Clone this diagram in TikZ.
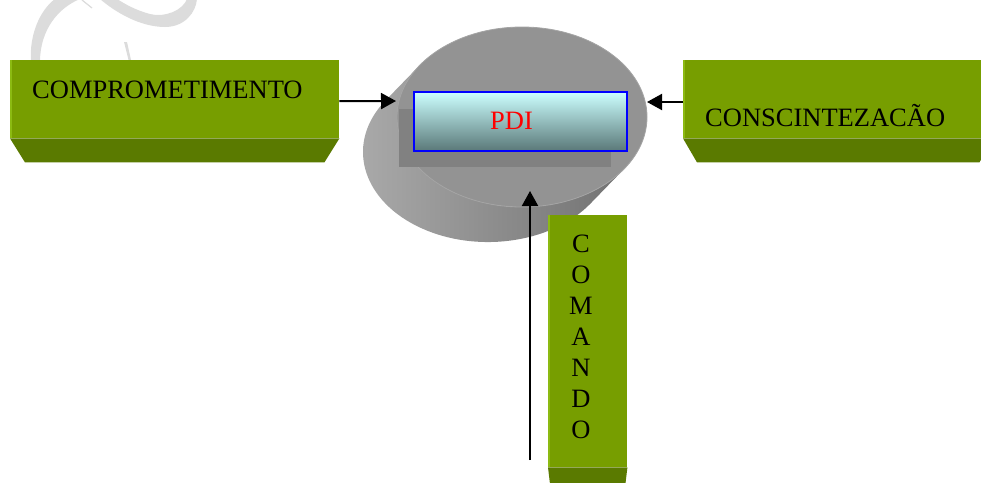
\documentclass[tikz,border=0pt]{standalone}
\usepackage{fontspec}
\setmainfont{Liberation Serif}
\usetikzlibrary{arrows.meta,shapes.geometric}

\definecolor{leaf}{HTML}{779E00}
\definecolor{leafdark}{HTML}{5A7A00}
\definecolor{leaflight}{HTML}{8CBA12}
\definecolor{disktop}{HTML}{939393}
\definecolor{diskrim}{HTML}{A4A4A4}
\definecolor{diskshadow}{HTML}{818181}
\definecolor{sidelight}{HTML}{ACACAC}
\definecolor{sidemid}{HTML}{8E8E8E}
\definecolor{sidedark}{HTML}{727272}
\definecolor{flourishgray}{HTML}{DCDCDC}

\begin{document}
\begin{tikzpicture}[x=1pt,y=-1pt,
  frontface/.style={rectangle, fill=leaf, draw=none, inner sep=0pt},
  bevelface/.style={fill=leafdark},
  edgelight/.style={draw=leaflight, line width=1.5pt},
  lbl/.style={font=\fontsize{26.5}{30}\selectfont, inner sep=0pt},
  flow/.style={line width=2pt, -{Triangle[length=15pt,width=16pt]}},
]
\useasboundingbox (0,0) rectangle (981,482);

% faint calligraphic flourish in the top-left corner
\fill[flourishgray] (31,62) .. controls (29,35) and (40,10) .. (55,-1) -- (80,-1)
  .. controls (58,8) and (40,30) .. (40,62) -- cycle;
\draw[flourishgray, line width=1.2pt] (82,0) -- (92,8);
\fill[flourishgray] (100,-1) .. controls (115,12) and (140,27) .. (165,27)
  .. controls (185,27) and (196,12) .. (197,-1) -- (187,-1)
  .. controls (183,10) and (165,18) .. (150,14)
  .. controls (135,10) and (125,4) .. (117,-1) -- cycle;
\fill[flourishgray] (124,42) -- (127,42) -- (131,60) -- (128.5,60) -- cycle;

% cylinder: side band, top face, inner shadow
\shade[left color=sidelight, middle color=sidemid, right color=sidedark]
  (419.6,65.4) -- (385.6,100.4)
  arc[start angle=215, end angle=35, x radius=125, y radius=90]
  -- (624.4,168.6)
  arc[start angle=35, end angle=215, x radius=125, y radius=90] -- cycle;
\node[ellipse, fill=disktop, draw=diskrim, line width=0.8pt,
      minimum width=250pt, minimum height=180pt, inner sep=0pt] (disk) at (522,117) {};
\fill[diskshadow] (399,109) rectangle (611,167);

% central block
\node[rectangle, draw=blue, line width=1.2pt, inner sep=0pt,
      top color={rgb,255:red,204;green,255;blue,255},
      middle color={rgb,255:red,150;green,196;blue,196},
      bottom color={rgb,255:red,90;green,120;blue,120},
      minimum width=213pt, minimum height=59pt] (pdi) at (520.5,121.5) {};
\node[lbl, text=red, anchor=base west] (pdiText) at (490,129) {PDI};

% left block
\node[frontface, minimum width=329pt, minimum height=78pt, anchor=north west] (comp) at (10,60) {};
\fill[bevelface] (comp.south west) -- (comp.south east)
  -- ([shift={(-15,24)}]comp.south east) -- ([shift={(15,24)}]comp.south west) -- cycle;
\draw[edgelight] ([xshift=0.75pt]comp.south west) -- ([xshift=0.75pt]comp.north west);
\node[lbl, anchor=base west] (compText) at (32,98) {COMPROMETIMENTO};

% right block
\node[frontface, minimum width=310pt, minimum height=78pt, anchor=north west] (consc) at (683,60) {};
\fill[bevelface] (consc.south west) -- (consc.south east)
  -- ([shift={(-14,24)}]consc.south east) -- ([shift={(14,24)}]consc.south west) -- cycle;
\draw[edgelight] ([xshift=0.75pt]consc.south west) -- ([xshift=0.75pt]consc.north west);
\node[lbl, anchor=base west] (conscText) at (705,126) {CONSCINTEZACÃO};

% bottom block
\node[frontface, minimum width=79pt, minimum height=252pt, anchor=north west] (cmd) at (548,215) {};
\fill[bevelface] (cmd.south west) -- (cmd.south east)
  -- ([shift={(-3,25)}]cmd.south east) -- ([shift={(3,25)}]cmd.south west) -- cycle;
\draw[edgelight] ([xshift=0.75pt]cmd.south west) -- ([xshift=0.75pt]cmd.north west);
\foreach \ch [count=\i] in {C,O,M,A,N,D,O}
  \node[lbl, anchor=base] (cmdChar\i) at (581,{252+31*(\i-1)}) {\ch};

% connectors
\coordinate (diskW) at (396,101);
\coordinate (diskE) at (647,102);
\coordinate (diskS) at (530,191);
\coordinate (cmdFoot) at (530,460);
\draw[flow] ([yshift=-2pt]comp.east) -- (diskW);
\draw[flow] (consc.west |- diskE) -- (diskE);
\draw[flow] (cmdFoot) -- (diskS);
\end{tikzpicture}
\end{document}
